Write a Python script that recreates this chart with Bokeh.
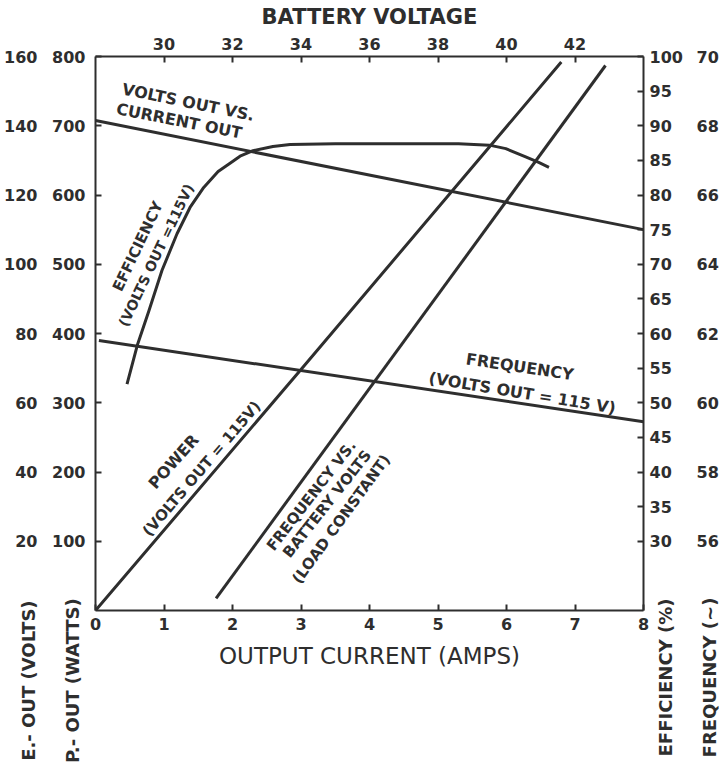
from bokeh.plotting import figure
from bokeh.models import Range1d, LinearAxis, FixedTicker, Label
from bokeh.core.properties import value
from bokeh.embed import file_html
from bokeh.resources import INLINE

# ---------------- data ----------------
# Volts out vs current out (left volts axis)
vo_current = [0.0, 8.0]
vo_volts = [141.5, 110.0]

# Frequency, volts out = 115 V (right frequency axis)
fq_current = [0.05, 8.0]
fq_hz = [61.8, 59.45]

# Power, volts out = 115 V (left watts axis)
pw_current = [0.0, 3.0, 6.8]
pw_watts = [0, 348, 792]

# Frequency vs battery volts, load constant (top battery axis, freq axis)
fb_battery = [31.52, 42.89]
fb_hz = [54.35, 69.74]

# Efficiency, volts out = 115 V (right efficiency axis)
ef_current = [0.46, 0.61, 0.78, 0.97, 1.19, 1.38, 1.58, 1.79, 1.98, 2.11,
              2.30, 2.59, 2.84, 3.5, 4.5, 5.3, 5.75, 5.99, 6.28, 6.47, 6.62]
ef_pct = [52.7, 58.3, 63.3, 69.1, 74.4, 78.2, 81.1, 83.4, 84.7, 85.6,
          86.4, 87.0, 87.3, 87.4, 87.4, 87.4, 87.2, 86.7, 85.5, 84.7, 84.0]

# tick values
amp_ticks = [0, 1, 2, 3, 4, 5, 6, 7, 8]
batt_ticks = [30, 32, 34, 36, 38, 40, 42]
watt_ticks = [100, 200, 300, 400, 500, 600, 700, 800]
volt_ticks = [20, 40, 60, 80, 100, 120, 140, 160]
eff_ticks = [30, 35, 40, 45, 50, 55, 60, 65, 70, 75, 80, 85, 90, 95, 100]
freq_ticks = [56, 58, 60, 62, 64, 66, 68, 70]

# side titles (below the left / right scales)
side_titles = ["E.- OUT  (VOLTS)", "P.- OUT  (WATTS)", "EFFICIENCY (%)", "FREQUENCY (~)"]

INK = "#2e2e2e"
FONT = "DejaVu Sans"
W, H = 721, 776

p = figure(width=W, height=H,
           x_range=Range1d(0, 8), y_range=Range1d(0, 800),
           output_backend="svg", toolbar_location=None,
           min_border_left=95, min_border_right=77,
           min_border_top=56, min_border_bottom=166)
p.extra_x_ranges = {"batt": Range1d(28, 44)}
p.extra_y_ranges = {"volts": Range1d(0, 160), "eff": Range1d(20, 100),
                    "freq": Range1d(54, 70)}
p.grid.visible = False
p.outline_line_color = None
p.background_fill_color = "white"
p.border_fill_color = "white"


def style(ax, ticks, standoff, show_line=True):
    ax.ticker = FixedTicker(ticks=ticks)
    ax.major_label_text_font = FONT
    ax.major_label_text_font_style = "bold"
    ax.major_label_text_font_size = "16px"
    ax.major_label_text_color = INK
    ax.major_label_standoff = standoff
    ax.minor_tick_line_color = None
    ax.major_tick_in = 6
    ax.major_tick_out = 0
    ax.axis_line_width = 2
    ax.axis_line_color = INK
    ax.major_tick_line_width = 2
    ax.major_tick_line_color = INK
    ax.axis_label_text_font = FONT
    ax.axis_label_text_color = INK
    ax.axis_label_text_font_style = "bold"
    if not show_line:
        ax.axis_line_color = None
        ax.major_tick_line_color = None


xax = p.xaxis[0]
style(xax, amp_ticks, 7)
xax.axis_label = "OUTPUT CURRENT (AMPS)"
xax.axis_label_text_font_style = "normal"
xax.axis_label_text_font_size = "23px"
xax.axis_label_standoff = 10

style(p.yaxis[0], watt_ticks, 10)

volt_axis = LinearAxis(y_range_name="volts")
style(volt_axis, volt_ticks, 12, show_line=False)
p.add_layout(volt_axis, "left")

batt_axis = LinearAxis(x_range_name="batt")
style(batt_axis, batt_ticks, 7)
batt_axis.axis_label = "BATTERY VOLTAGE"
batt_axis.axis_label_text_font_size = "21px"
batt_axis.axis_label_standoff = 6
p.add_layout(batt_axis, "above")

eff_axis = LinearAxis(y_range_name="eff")
style(eff_axis, eff_ticks, 6)
p.add_layout(eff_axis, "right")

freq_axis = LinearAxis(y_range_name="freq")
style(freq_axis, freq_ticks, 11, show_line=False)
p.add_layout(freq_axis, "right")

LW = 3
p.line(vo_current, vo_volts, y_range_name="volts", line_color=INK, line_width=LW)
p.line(fq_current, fq_hz, y_range_name="freq", line_color=INK, line_width=LW)
p.line(pw_current, pw_watts, line_color=INK, line_width=LW)
p.line(fb_battery, fb_hz, x_range_name="batt", y_range_name="freq",
       line_color=INK, line_width=LW)
p.line(ef_current, ef_pct, y_range_name="eff", line_color=INK, line_width=LW,
       line_join="round")


def lab(text, x, y, angle=0, size=16, style_="bold"):
    p.add_layout(Label(x=x, y=y, text=text, angle=angle, angle_units="deg",
                       text_align="center", text_baseline="middle",
                       text_font=FONT, text_font_style=style_,
                       text_font_size=f"{size}px", text_color=INK))


# curve annotations (inside the frame)
lab("VOLTS OUT VS.", 1.353, 734, -11.5)
lab("CURRENT OUT", 1.222, 707, -11.2)
lab("EFFICIENCY", 0.618, 526, 64.6, 15)
lab("(VOLTS OUT =115V)", 0.885, 513, 64.5, 14)
lab("POWER", 1.139, 215, 48.4)
lab("(VOLTS OUT = 115V)", 1.552, 205, 49.4, 15)
lab("FREQUENCY VS.", 3.152, 166, 52.1, 15)
lab("BATTERY VOLTS", 3.382, 154, 51.6, 15)
lab("(LOAD CONSTANT)", 3.588, 132, 54.0, 15)
lab("FREQUENCY", 6.194, 352, -8.4)
lab("(VOLTS OUT = 115 V)", 6.23, 314, -9.3)

# transparent overlay (separate root, pulled up over the chart) carrying the side titles
ov = figure(width=W, height=H, x_range=Range1d(0, W), y_range=Range1d(H, 0),
            x_axis_type=None, y_axis_type=None, output_backend="svg",
            toolbar_location=None, min_border=0)
ov.grid.visible = False
ov.outline_line_color = None
ov.background_fill_alpha = 0
ov.border_fill_alpha = 0
ov.margin = (-H, 0, 0, 0)
ov.text(x=[28, 72, 665, 709], y=[677, 677, 677, 677], text=side_titles,
        angle=1.5708, text_align="center", text_baseline="middle",
        text_font=value(FONT), text_font_style="bold", text_font_size="18px",
        text_color=INK)

open("out.html", "w").write(file_html([p, ov], INLINE))
